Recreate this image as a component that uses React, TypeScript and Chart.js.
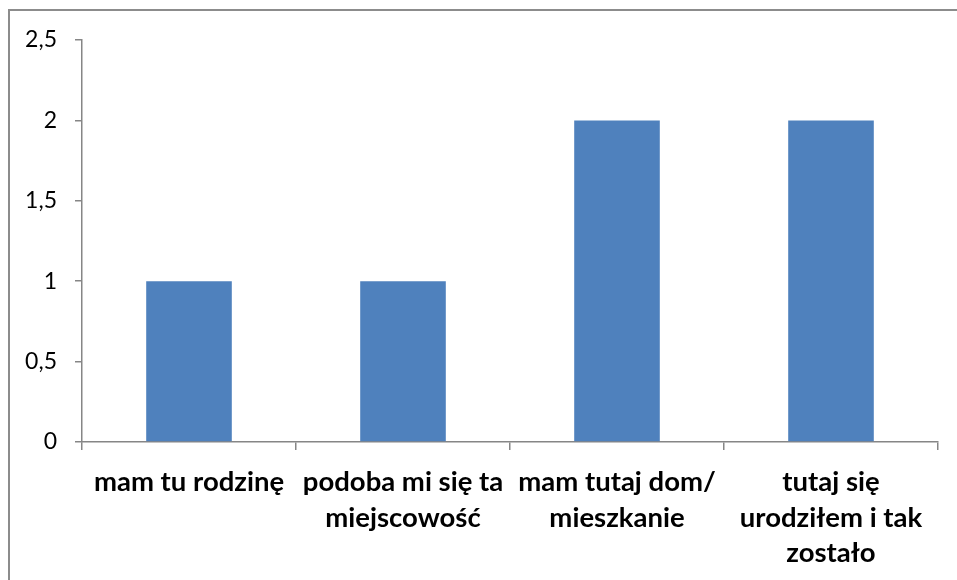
import React, { useEffect, useRef } from "react";
import { Chart, registerables } from "chart.js";

Chart.register(...registerables);

const categories: string[][] = [
  ["mam tu rodzinę"],
  ["podoba mi się ta", "miejscowość"],
  ["mam tutaj dom/", "mieszkanie"],
  ["tutaj się", "urodziłem i tak", "zostało"],
];
const values: number[] = [1, 1, 2, 2];
const yMin = 0;
const yMax = 2.5;
const yStep = 0.5;

export default function App() {
  const ref = useRef<HTMLCanvasElement | null>(null);
  useEffect(() => {
    if (!ref.current) return;
    const chart = new Chart(ref.current, {
      type: "bar",
      data: {
        labels: categories,
        datasets: [
          {
            data: values,
            backgroundColor: "#4F81BD",
            borderWidth: 0,
            categoryPercentage: 1,
            barPercentage: 0.4,
          },
        ],
      },
      options: {
        animation: false,
        responsive: false,
        maintainAspectRatio: false,
        layout: { padding: { top: 32, right: 19, left: 0, bottom: 0 } },
        plugins: { legend: { display: false }, tooltip: { enabled: false } },
        scales: {
          x: {
            grid: {
              display: true,
              drawOnChartArea: false,
              drawTicks: true,
              tickLength: 8,
              color: "#868686",
              lineWidth: 1.5,
              offset: true,
            },
            border: { color: "#868686", width: 1.5 },
            ticks: {
              color: "#000",
              font: { family: "Lato", weight: "bold", size: 27.5, lineHeight: 1.28 },
              padding: 15,
              maxRotation: 0,
              autoSkip: false,
            },
            afterFit: (s: any) => {
              s.height = 138;
            },
          },
          y: {
            min: yMin,
            max: yMax,
            grid: {
              display: true,
              drawOnChartArea: false,
              drawTicks: true,
              tickLength: 7,
              color: "#868686",
              lineWidth: 1.5,
            },
            border: { color: "#868686", width: 1.5 },
            ticks: {
              stepSize: yStep,
              color: "#000",
              font: { family: "Lato", size: 23 },
              padding: 18,
              callback: (v: any) => String(v).replace(".", ","),
            },
            afterFit: (s: any) => {
              s.width = 74;
            },
          },
        },
      },
    });
    return () => chart.destroy();
  }, []);
  return (
    <div
      style={{
        position: "fixed",
        left: 0,
        top: 0,
        width: 957,
        height: 580,
        overflow: "hidden",
        background: "#fff",
      }}
    >
      <div
        style={{
          position: "absolute",
          left: 8,
          top: 9,
          width: 1100,
          height: 700,
          border: "2px solid #8c8c8c",
          boxSizing: "border-box",
        }}
      />
      <canvas
        ref={ref}
        width={949}
        height={572}
        style={{ position: "absolute", left: 8, top: 8, width: 949, height: 572 }}
      />
    </div>
  );
}
